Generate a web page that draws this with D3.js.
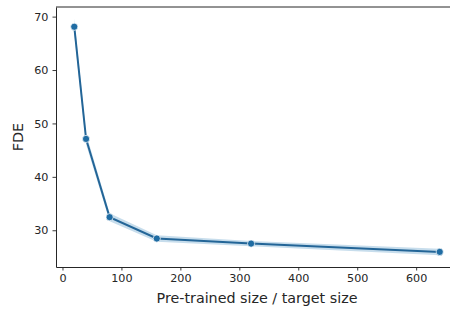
<!DOCTYPE html>
<html>
<head>
<meta charset="utf-8">
<script src="https://cdn.jsdelivr.net/npm/d3@7"></script>
<style>
  body { margin: 0; background: #fff; }
  svg text { font-family: "DejaVu Sans", sans-serif; fill: #262626; }
</style>
</head>
<body>
<div id="chart"></div>
<script>
// data
const sizeRatio = [20, 40, 80, 160, 320, 640];
const fde = [68.1, 47.1, 32.45, 28.45, 27.5, 25.95];
const fdeLower = [66.6, 46.1, 31.7, 27.85, 27.0, 25.33];
const fdeUpper = [69.6, 48.1, 33.2, 29.05, 28.0, 26.55];
const xTicks = [0, 100, 200, 300, 400, 500, 600];
const yTicks = [30, 40, 50, 60, 70];

const width = 450, height = 312;
const margin = { top: 7, right: -8, bottom: 45, left: 56 };
const innerW = width - margin.left - margin.right;
const innerH = height - margin.top - margin.bottom;

const svg = d3.select('#chart').append('svg')
  .attr('width', width)
  .attr('height', height);

const g = svg.append('g')
  .attr('transform', `translate(${margin.left},${margin.top})`);

const x = d3.scaleLinear().domain([-11, 671]).range([0, innerW]);
const y = d3.scaleLinear().domain([23.12, 71.8]).range([innerH, 0]);

const rows = sizeRatio.map((s, i) => ({ s, v: fde[i], lo: fdeLower[i], hi: fdeUpper[i] }));

// confidence band
g.append('path')
  .datum(rows)
  .attr('d', d3.area().x(d => x(d.s)).y0(d => y(d.lo)).y1(d => y(d.hi)))
  .attr('fill', '#1f77b4')
  .attr('fill-opacity', 0.25)
  .attr('stroke', 'none');

// line
g.append('path')
  .datum(rows)
  .attr('d', d3.line().x(d => x(d.s)).y(d => y(d.v)))
  .attr('fill', 'none')
  .attr('stroke', '#236597')
  .attr('stroke-width', 2);

// markers
g.selectAll('circle.pt')
  .data(rows)
  .enter()
  .append('circle')
  .attr('class', 'pt')
  .attr('cx', d => x(d.s))
  .attr('cy', d => y(d.v))
  .attr('r', 3.6)
  .attr('fill', '#1f6ca3')
  .attr('stroke', '#fff')
  .attr('stroke-width', 0.7);

// axes
const xAxis = g.append('g')
  .attr('transform', `translate(0,${innerH})`)
  .call(d3.axisBottom(x).tickValues(xTicks).tickSize(3.5).tickPadding(4).tickSizeOuter(0));
const yAxis = g.append('g')
  .call(d3.axisLeft(y).tickValues(yTicks).tickSize(3.5).tickPadding(4).tickSizeOuter(0));

[xAxis, yAxis].forEach(a => {
  a.select('.domain').attr('stroke', '#262626').attr('stroke-width', 1);
  a.selectAll('.tick line').attr('stroke', '#262626').attr('stroke-width', 0.9);
  a.selectAll('.tick text').attr('font-size', 11.2).attr('fill', '#262626');
});

// top and right spines
g.append('line')
  .attr('x1', 0).attr('x2', innerW).attr('y1', 0).attr('y2', 0)
  .attr('stroke', '#262626').attr('stroke-width', 1);
g.append('line')
  .attr('x1', innerW).attr('x2', innerW).attr('y1', 0).attr('y2', innerH)
  .attr('stroke', '#262626').attr('stroke-width', 1);

// axis titles
svg.append('text')
  .attr('x', 257)
  .attr('y', 303)
  .attr('text-anchor', 'middle')
  .attr('font-size', 14.3)
  .text('Pre-trained size / target size');

svg.append('text')
  .attr('transform', `translate(23,${margin.top + innerH / 2}) rotate(-90)`)
  .attr('text-anchor', 'middle')
  .attr('font-size', 14.3)
  .text('FDE');
</script>
</body>
</html>
